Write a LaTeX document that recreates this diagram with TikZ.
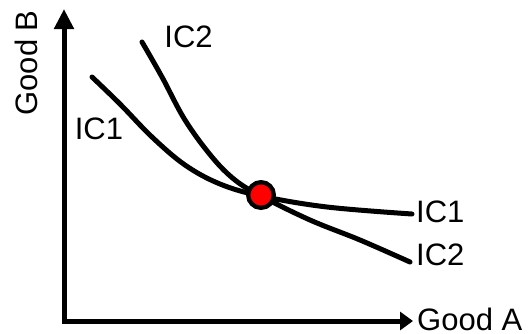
\documentclass[tikz,border=0pt]{standalone}
\usepackage{fontspec}
\setmainfont{Liberation Sans}
\usetikzlibrary{arrows.meta}
\begin{document}
\begin{tikzpicture}[x=1pt,y=-1pt,
  lbl/.style={inner sep=0pt, font=\fontsize{31}{31}\selectfont},
  curve/.style={line width=5pt, line cap=round, smooth, tension=0.6},
  axis/.style={line width=5pt, line join=miter}]
\useasboundingbox (0,0) rectangle (529,333);
% axes
\coordinate (ytip) at (64,9);
\coordinate (origin) at (64,321);
\coordinate (xtip) at (413,321);
\draw[axis, {Triangle[length=20pt,width=19pt]}-{Triangle[length=13pt,width=18pt]}] (ytip) -- (origin) -- (xtip);
% labels
\node[lbl, rotate=90] (goodB) at (26.5,63) {Good B};
\node[lbl, anchor=west] (goodA) at (417,319.5) {Good A};
\node[lbl] (ic1l) at (99,128.5) {IC1};
\node[lbl] (ic2t) at (188.5,36.5) {IC2};
\node[lbl, anchor=west] (ic1r) at (416,212) {IC1};
\node[lbl, anchor=west] (ic2r) at (416,254.5) {IC2};
% curves
\draw[curve] plot coordinates {(92,77) (120,104) (152,137) (185,165) (220,184) (261,196) (327,207) (412,214)};
\draw[curve] plot coordinates {(142,42) (162,77) (185,120) (212,157) (235,180) (261,196) (310,220) (360,240) (410,262)};
% equilibrium point
\node[circle, draw=black, fill=red, line width=4.3pt, minimum size=25.7pt, inner sep=0pt] (eq) at (261,195) {};
\end{tikzpicture}
\end{document}
